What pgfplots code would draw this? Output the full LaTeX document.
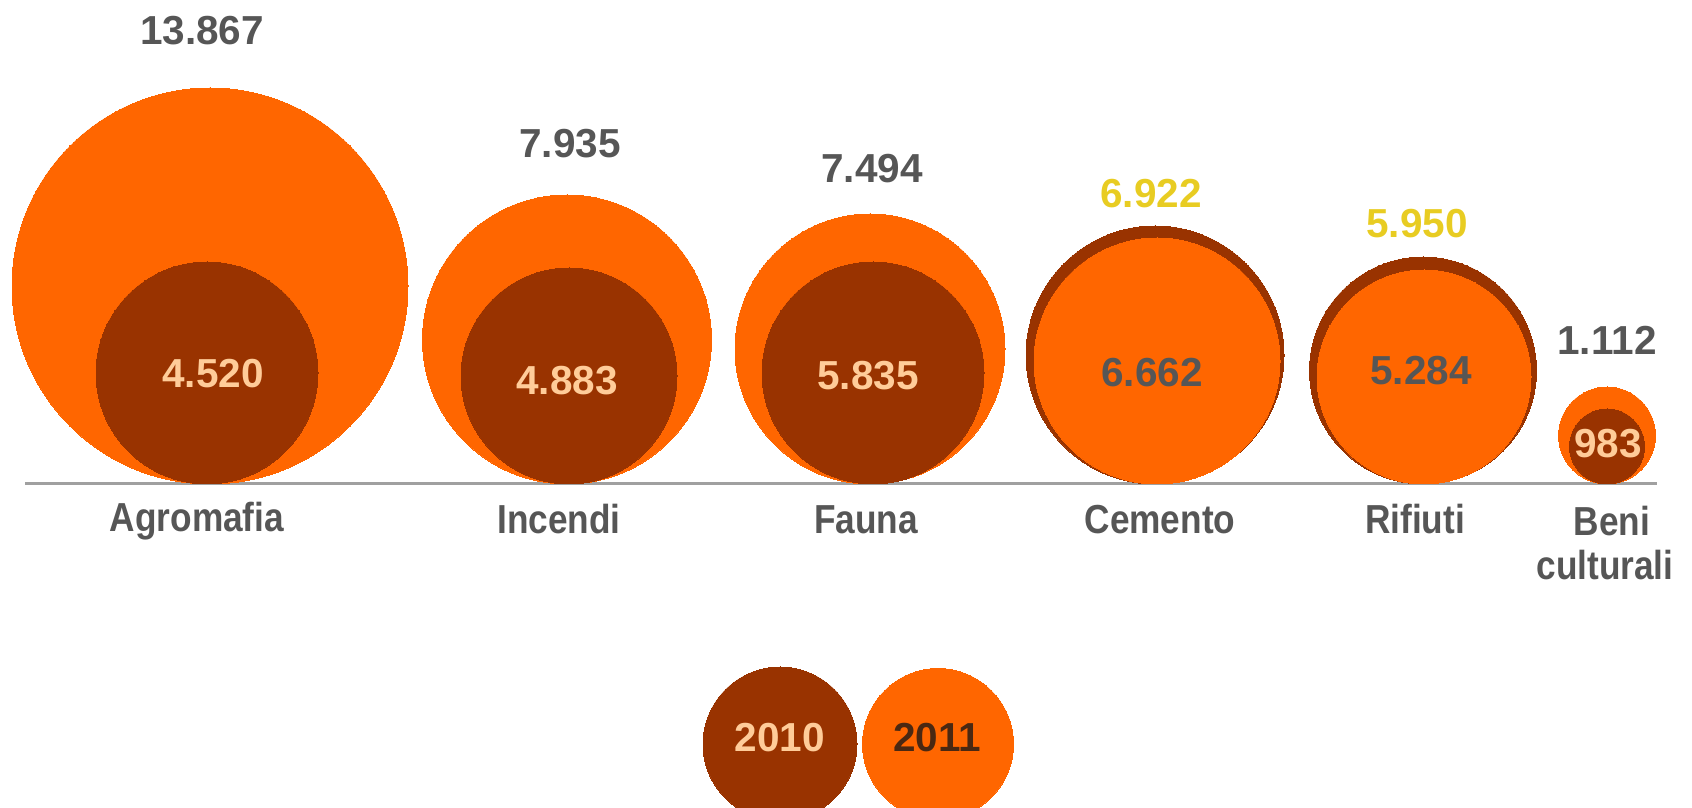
\documentclass[border=0pt]{standalone}
\usepackage{pgfplots}
\usepackage{pgfplotstable}
\pgfplotsset{compat=1.18}
\usepackage{fontspec}
\setmainfont{Liberation Sans}
\newfontfamily\numfam{Liberation Sans}
\newfontfamily\catfam{Liberation Sans}[FakeStretch=0.87]
\definecolor{org}{HTML}{FF6600}
\definecolor{brn}{HTML}{993300}
\definecolor{gry}{HTML}{565656}
\definecolor{ylw}{HTML}{E8CC22}
\definecolor{pch}{HTML}{FFCC99}
\definecolor{dkb}{HTML}{4A2812}
\definecolor{basel}{HTML}{A0A0A0}

% circles: x centre, y centre, diameter (px of the reference)
\pgfplotstableread{
x y d
210 522 396
567 468.5 289
870 459 270
1607 372.5 97
}\backorange   % 2011, larger than 2010
\pgfplotstableread{
x y d
1155 453 258
1423 437.5 227
}\backbrown    % 2010, larger than 2011
\pgfplotstableread{
x y d
207 435 222
569 432 216
873 435 222
1607 361.5 75
}\frontbrown   % 2010
\pgfplotstableread{
x y d
1157 447 246
1424 431 214
}\frontorange  % 2011
\pgfplotstableread{
x y d
780 64 154
}\legbrown
\pgfplotstableread{
x y d
938 64 151
}\legorange

\pgfplotstableread{
x y lab
202 778 13.867
570 665 7.935
872 640 7.494
1607 468 1.112
1152 436 6.662
1421 438 5.284
}\greylabels
\pgfplotstableread{
x y lab
1151 615 6.922
1417 585 5.950
}\yellowlabels
\pgfplotstableread{
x y lab
213 435 4.520
567 428 4.883
868 433 5.835
1608 365 983
780 71 2010
}\peachlabels
\pgfplotstableread{
x y lab
937 71 2011
}\darklabels
\pgfplotstableread{
x y lab
197 291 Agromafia
559 289 Incendi
866 289 Fauna
1160 289 Cemento
1415 289 Rifiuti
1612 287 Beni
1605 243 culturali
}\catlabels

\pgfplotsset{
  bubble/.style={scatter, only marks, mark=*, color=#1,
    mark options={draw=#1, fill=#1, line width=0pt},
    scatter/use mapped color={draw=#1, fill=#1},
    visualization depends on={\thisrow{d}/2 \as \rad},
    scatter/@pre marker code/.append style={/tikz/mark size=\rad pt}},
  lab/.style 2 args={only marks, mark=none, nodes near coords,
    point meta=explicit symbolic, nodes near coords align={center},
    every node near coord/.append style={font=#2\bfseries\fontsize{40.5}{44}\selectfont,
      text=#1, inner sep=0pt, text height=29pt, text depth=0pt}},
}

\begin{document}
\begin{tikzpicture}
\begin{axis}[name=ax, width=1692pt, height=808pt, scale only axis,
  xmin=0, xmax=1692, ymin=0, ymax=808,
  axis line style={draw=none}, xtick=\empty, ytick=\empty, clip=false]
  % baseline
  \addplot[basel, line width=3pt, mark=none] coordinates {(25,324) (1657,324)};
  % bubbles
  \addplot[bubble=org] table[x=x, y=y] {\backorange};
  \addplot[bubble=brn] table[x=x, y=y] {\backbrown};
  \addplot[bubble=brn] table[x=x, y=y] {\frontbrown};
  \addplot[bubble=org] table[x=x, y=y] {\frontorange};
  \addplot[bubble=brn] table[x=x, y=y] {\legbrown};
  \addplot[bubble=org] table[x=x, y=y] {\legorange};
  % labels
  \addplot[lab={gry}{\numfam}] table[x=x, y=y, meta=lab] {\greylabels};
  \addplot[lab={ylw}{\numfam}] table[x=x, y=y, meta=lab] {\yellowlabels};
  \addplot[lab={pch}{\numfam}] table[x=x, y=y, meta=lab] {\peachlabels};
  \addplot[lab={dkb}{\numfam}] table[x=x, y=y, meta=lab] {\darklabels};
  \addplot[lab={gry}{\catfam}] table[x=x, y=y, meta=lab] {\catlabels};
\end{axis}
\pgfresetboundingbox
\path[use as bounding box] (ax.south west) rectangle (ax.north east);
\end{tikzpicture}
\end{document}
